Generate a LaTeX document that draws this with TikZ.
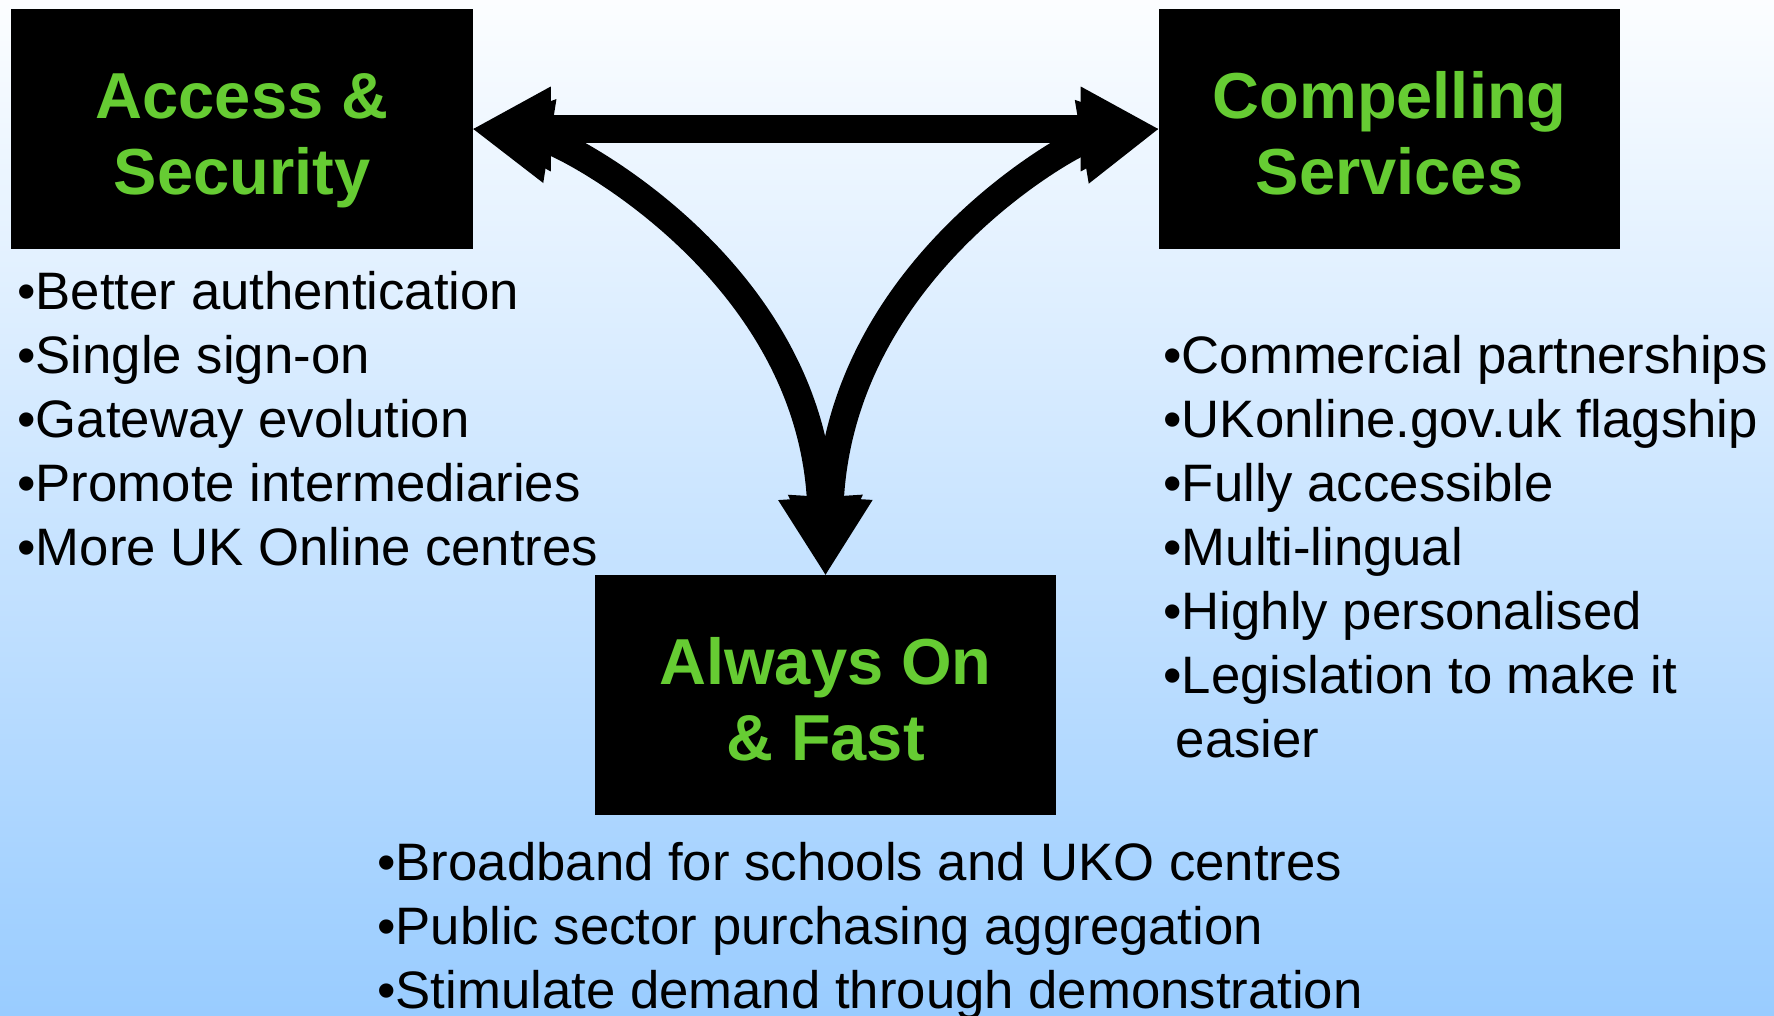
\documentclass[tikz,border=0pt]{standalone}
\usepackage{fontspec}
\setmainfont{Liberation Sans}
\usetikzlibrary{arrows.meta}
\definecolor{titlegreen}{RGB}{102,204,51}
\definecolor{skyblue}{RGB}{153,204,255}
\tikzset{
  fat/.tip={Triangle[length=1.55cm,width=1.7cm,line width=0pt]},
  goalbox/.style={fill=black, minimum width=9.24cm, minimum height=4.8cm, inner sep=0pt,
    align=center, text=titlegreen, text depth=0pt, font=\fontsize{37}{43}\selectfont\bfseries},
  pointlist/.style={anchor=north west, inner sep=0pt, align=left,
    font=\fontsize{30}{36.4}\selectfont},
  bigline/.style={line width=0.55cm, fat-fat},
}
\newcommand{\toprule}{\rule{0pt}{31.5pt}}
\begin{document}
\begin{tikzpicture}[x=0.02cm, y=-0.02cm]
  \shade[top color=white!97!skyblue, bottom color=skyblue] (0,0) rectangle (1774,1016);
  \useasboundingbox (0,0) rectangle (1774,1016);
  % the three goals
  \node[goalbox] (acc) at (242,129) {\toprule Access \&\\Security};
  \node[goalbox] (comp) at (1389.5,129) {\toprule Compelling\\Services};
  \node[goalbox] (fast) at (825.5,695) {\toprule Always On\\\& Fast};
  % links between them
  \draw[bigline] (acc.east) -- (comp.west);
  \draw[bigline] (acc.east) .. controls +(89,14) and +(-20,-310) .. (fast.north);
  \draw[bigline] (comp.west) .. controls +(-84,14) and +(19,-310) .. (fast.north);
  % what each goal needs
  \node[pointlist] (accpts) at (17,271) {•Better authentication\\•Single sign-on\\
    •Gateway evolution\\•Promote intermediaries\\•More UK Online centres};
  \node[pointlist] (comppts) at (1163,335) {•Commercial partnerships\\
    •UKonline.gov.uk flagship\\•Fully accessible\\•Multi-lingual\\
    •Highly personalised\\•Legislation to make it\\\hspace{0.25cm}easier};
  \node[pointlist] (fastpts) at (377,842) {•Broadband for schools and UKO centres\\
    •Public sector purchasing aggregation\\•Stimulate demand through demonstration};
\end{tikzpicture}
\end{document}
